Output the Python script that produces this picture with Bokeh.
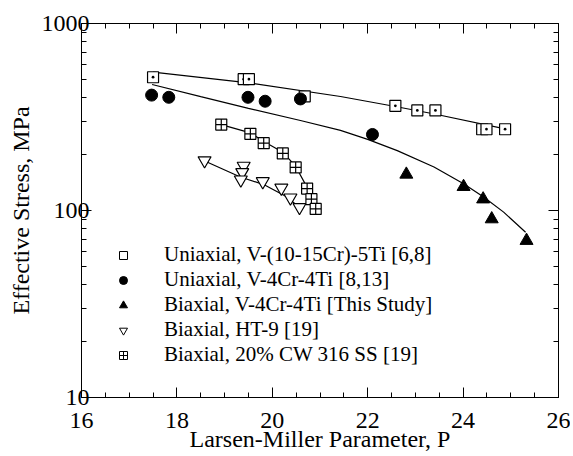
from bokeh.plotting import figure
from bokeh.models import (FixedTicker, LinearAxis, LogAxis, Legend, LegendItem,
                          ColumnDataSource, PrintfTickFormatter,
                          CustomJSTickFormatter)
from bokeh.embed import file_html
from bokeh.resources import INLINE

# ---------------- data ----------------
# Uniaxial, V-(10-15Cr)-5Ti [6,8]
v15_P = [17.50, 19.40, 19.51, 20.68, 22.58, 23.04, 23.42, 24.40, 24.49, 24.88]
v15_S = [516, 504, 504, 408, 363, 343, 343, 272, 272, 272]
v15_fitP = [17.50, 19.46, 21.43, 22.58, 23.40, 24.88]
v15_fitS = [549, 483, 407, 360, 328, 273]

# Uniaxial, V-4Cr-4Ti [8,13]
v4u_P = [17.47, 17.83, 19.49, 19.85, 20.59, 22.10]
v4u_S = [414, 403, 403, 384, 395, 255]

# Biaxial, V-4Cr-4Ti [This Study]
v4b_P = [22.81, 24.01, 24.42, 24.60, 25.33]
v4b_S = [156, 134, 115, 90, 69]
v4_fitP = [17.48, 18.50, 19.50, 20.59, 21.43, 22.00, 22.62, 23.39, 24.01,
           24.43, 24.85, 25.31]
v4_fitS = [472, 406, 352, 303, 268, 240, 209, 171, 139, 118, 98, 76.5]

# Biaxial, HT-9 [19]
ht9_P = [18.58, 19.40, 19.37, 19.34, 19.80, 20.19, 20.38, 20.57]
ht9_S = [185, 173, 160, 146, 143, 132, 117, 104]
ht9_fitP = [18.56, 19.33, 19.81, 20.31, 20.56]
ht9_fitS = [185, 151, 138, 118, 104]

# Biaxial, 20% CW 316 SS [19]
ss_P = [18.93, 19.54, 19.82, 20.22, 20.49, 20.73, 20.82, 20.91]
ss_S = [288, 257, 229, 202, 170, 131, 115, 102]
ss_fitP = [18.93, 19.54, 19.85, 20.22, 20.49, 20.73]
ss_fitS = [288, 260, 232, 205, 172, 133]

labels = ["Uniaxial, V-(10-15Cr)-5Ti [6,8]",
          "Uniaxial, V-4Cr-4Ti [8,13]",
          "Biaxial, V-4Cr-4Ti [This Study]",
          "Biaxial, HT-9 [19]",
          "Biaxial, 20% CW 316 SS [19]"]

x_major = [16, 18, 20, 22, 24, 26]
x_minor = [16.5, 17, 17.5, 18.5, 19, 19.5, 20.5, 21, 21.5, 22.5, 23, 23.5,
           24.5, 25, 25.5]
y_major = [10, 100, 1000]
y_minor = [20, 30, 40, 50, 60, 70, 80, 90, 200, 300, 400, 500, 600, 700, 800, 900]

FONT = "Liberation Serif"
FS = "24px"

p = figure(width=570, height=455, x_range=(16, 26), y_range=(10, 1000),
           y_axis_type="log", output_backend="svg", toolbar_location=None,
           min_border_left=81, min_border_right=12, min_border_top=23,
           min_border_bottom=58)
p.grid.visible = False
p.outline_line_color = "black"
p.outline_line_width = 1
p.background_fill_color = "white"
p.border_fill_color = "white"

xt = FixedTicker(ticks=x_major, minor_ticks=x_minor)
yt = FixedTicker(ticks=y_major, minor_ticks=y_minor)

def style(ax):
    ax.axis_line_color = "black"
    ax.major_tick_in = 10
    ax.major_tick_out = 0
    ax.minor_tick_in = 5
    ax.minor_tick_out = 0
    ax.major_tick_line_color = "black"
    ax.minor_tick_line_color = "black"
    ax.major_label_text_font = FONT
    ax.major_label_text_color = "black"
    ax.major_label_text_font_size = FS
    ax.axis_label_text_font = FONT
    ax.axis_label_text_font_style = "normal"
    ax.axis_label_text_color = "black"
    ax.axis_label_text_font_size = FS

p.xaxis.ticker = xt
p.yaxis.ticker = yt
style(p.xaxis[0])
style(p.yaxis[0])
p.yaxis.formatter = PrintfTickFormatter(format="%d")
p.xaxis.major_label_standoff = 15
p.yaxis.major_label_standoff = -8
p.xaxis.axis_label = "Larsen-Miller Parameter, P"
p.xaxis.axis_label_standoff = -5
p.yaxis.axis_label = "Effective Stress, MPa"
p.yaxis.axis_label_standoff = 5

blank = CustomJSTickFormatter(code="return ''")
top = LinearAxis(ticker=xt, formatter=blank)
style(top)
top.major_label_standoff = 0
p.add_layout(top, "above")
right = LogAxis(ticker=yt, formatter=blank)
style(right)
right.major_label_standoff = 0
p.add_layout(right, "right")

LW = 1.2
# fit curves
p.line(v15_fitP, v15_fitS, line_color="black", line_width=LW)
p.line(v4_fitP, v4_fitS, line_color="black", line_width=LW)
p.line(ht9_fitP, ht9_fitS, line_color="black", line_width=LW)
p.line(ss_fitP, ss_fitS, line_color="black", line_width=LW)

# data points
p.scatter(v15_P, v15_S, marker="square_dot", size=11, fill_color="white",
          line_color="black", line_width=1.2)
p.scatter(v4u_P, v4u_S, marker="circle", size=12, fill_color="black",
          line_color="black")
p.scatter(v4b_P, v4b_S, marker="triangle", size=13, fill_color="black",
          line_color="black")
p.scatter(ht9_P, ht9_S, marker="inverted_triangle", size=13, fill_color="white",
          line_color="black", line_width=1.2)
p.scatter(ss_P, ss_S, marker="square_cross", size=11, fill_color="white",
          line_color="black", line_width=1.2)

# legend glyphs (renderers with no visible point, smaller markers)
nan = float("nan")
lg = []
for m, fc in [("square", "white"), ("circle", "black"), ("triangle", "black"),
              ("inverted_triangle", "white"), ("square_cross", "white")]:
    r = p.scatter("x", "y", source=ColumnDataSource(data=dict(x=[nan], y=[nan])),
                  marker=m, size=9, fill_color=fc, line_color="black",
                  line_width=1)
    lg.append(r)

legend = Legend(items=[LegendItem(label=l, renderers=[r]) for l, r in zip(labels, lg)],
                location=(32, 30), padding=0, margin=0, spacing=0,
                label_height=24, glyph_height=24, glyph_width=20,
                label_standoff=31, border_line_color=None,
                background_fill_alpha=0, label_text_font=FONT,
                label_text_font_size="21px", label_text_color="black")
p.add_layout(legend, "center")

open("out.html", "w").write(file_html(p, INLINE))
